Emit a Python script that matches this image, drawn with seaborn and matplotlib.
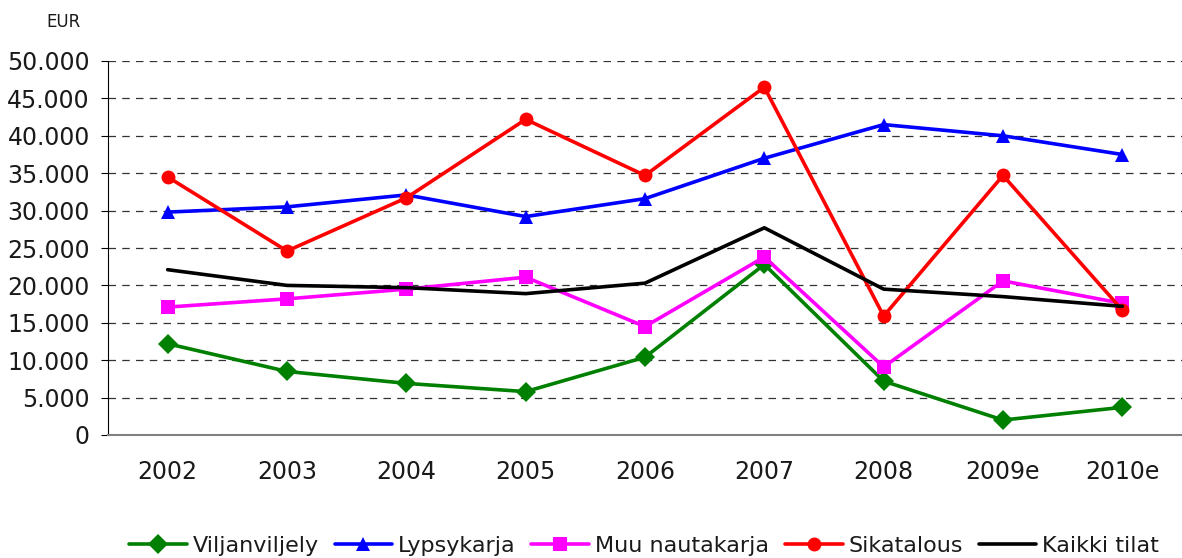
import matplotlib
matplotlib.use("Agg")
import matplotlib.pyplot as plt
import seaborn as sns
import pandas as pd
import numpy as np
from matplotlib.ticker import FuncFormatter, FixedLocator

years = ["2002", "2003", "2004", "2005", "2006", "2007", "2008", "2009e", "2010e"]
viljanviljely = [12200, 8500, 6900, 5800, 10400, 22800, 7200, 2000, 3700]
lypsykarja = [29800, 30500, 32100, 29200, 31600, 37000, 41500, 40000, 37500]
muu_nautakarja = [17100, 18200, 19500, 21100, 14500, 23800, 9100, 20600, 17600]
sikatalous = [34500, 24600, 31700, 42200, 34700, 46500, 15900, 34700, 16700]
kaikki_tilat = [22100, 20000, 19700, 18900, 20300, 27700, 19500, 18500, 17200]

series = [
    ("Viljanviljely", viljanviljely, "#008000", "D", 13),
    ("Lypsykarja", lypsykarja, "#0000FF", "^", 15),
    ("Muu nautakarja", muu_nautakarja, "#FF00FF", "s", 12),
    ("Sikatalous", sikatalous, "#FF0000", "o", 13),
    ("Kaikki tilat", kaikki_tilat, "#000000", None, 0),
]

sns.set_style("white")
plt.rcParams['font.family'] = ['DejaVu Sans']

fig = plt.figure(figsize=(11.82, 5.58), dpi=100)
ax = fig.add_axes([108/1182, 1-435/558, 1-108/1182, (435-61)/558])

x = np.arange(len(years))
for name, vals, color, marker, ms in series:
    df = pd.DataFrame({"x": x, "y": vals})
    kw = dict(marker=marker, markersize=ms, markeredgewidth=0) if marker else dict()
    sns.lineplot(data=df, x="x", y="y", ax=ax, color=color, linewidth=2.6,
                 label=name, **kw)

ax.set_ylim(0, 50000)
ax.set_xlim(-0.5, len(years) - 0.5)
ax.set_yticks(np.arange(0, 50001, 5000))
ax.yaxis.set_major_formatter(FuncFormatter(lambda v, p: f"{int(v):,}".replace(",", ".")))
ax.set_xticks(x)
ax.set_xticklabels(years)
ax.xaxis.set_minor_locator(FixedLocator(np.arange(-0.5, len(years), 1.0)))
ax.tick_params(axis="x", which="major", length=0, pad=18, labelsize=17, colors="#1a1a1a")
ax.tick_params(axis="x", which="minor", length=6, color="#808080", width=1.2)
ax.tick_params(axis="y", which="major", length=5, direction="out", pad=8, labelsize=17,
               color="#000000", labelcolor="#1a1a1a", left=True)
ax.set_xlabel("")
ax.set_ylabel("")
ax.grid(axis="y", color="#333333", linestyle=(0, (6, 5)), linewidth=0.9)
ax.set_axisbelow(True)
for s in ["top", "right"]:
    ax.spines[s].set_visible(False)
ax.spines["left"].set_color("#000000")
ax.spines["bottom"].set_color("#808080")
ax.spines["bottom"].set_linewidth(1.5)

fig.text(64/1182, 1-22/558, "EUR", fontsize=12, ha="center", va="center", color="#1a1a1a")

handles, labels = ax.get_legend_handles_labels()
ax.get_legend().remove()
for h in handles:
    if h.get_marker() not in (None, "None", ""):
        h.set_markersize(10)
fig.legend(handles, labels, loc="center", bbox_to_anchor=(0.545, 0.022), ncol=5,
           frameon=False, fontsize=16, handlelength=2.6, columnspacing=0.7,
           handletextpad=0.27, labelcolor="#1a1a1a")

fig.savefig("out.png", dpi=100)
